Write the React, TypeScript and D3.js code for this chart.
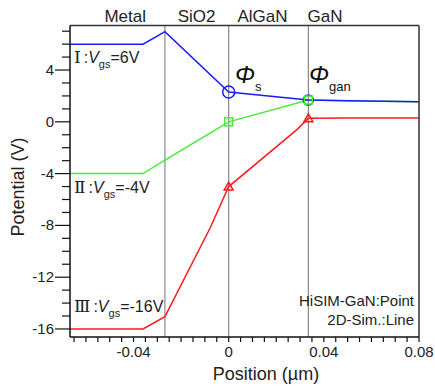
import React from 'react';
import * as d3 from 'd3';

// layer boundaries (µm) and labels
const boundaries = [-0.0268, 0, 0.0335];
const regionNames = ['Metal', 'SiO2', 'AlGaN', 'GaN'];
const regionLabelX = [-0.0435, -0.0135, 0.0142, 0.0405];

// 2D simulation lines
const lineX = [-0.0667, -0.036, -0.0268, 0, 0.0335, 0.05, 0.08];
const line6V = [6, 6, 6.96, 2.3, 1.68, 1.62, 1.55];
const lineM4V = [-4, -4, -2.95, 0, 1.68, 1.62, 1.55];
const redX = [-0.0667, -0.036, -0.0268, -0.0078, 0, 0.0287, 0.0335, 0.05, 0.08];
const lineM16V = [-16, -16, -15.05, -8.2, -5, -0.6, 0.27, 0.29, 0.3];

// HiSIM-GaN points
const pointX = [0, 0.0335];
const pts6V = [2.3, 1.68];
const ptsM4V = [0, 1.68];
const ptsM16V = [-5, 0.27];

const xTickLabels = [-0.04, 0, 0.04, 0.08];
const yTickLabels = [4, 0, -4, -8, -12, -16];

const BLUE = '#1a1aff';
const GREEN = '#44ee33';
const RED = '#ff1a1a';

export default function App() {
  const width = 435, height = 388;
  const left = 70, right = 419, top = 25.5, bottom = 337;

  const x = d3.scaleLinear().domain([-0.0667, 0.08]).range([left, right]);
  const y = d3.scaleLinear().domain([-16.62, 7.44]).range([bottom, top]);

  const mkLine = (xs: number[], ys: number[]) =>
    d3.line<number>().x((_, i) => x(xs[i])).y((d) => y(d))(ys) || '';

  const xMinor = d3.range(-0.065, 0.0801, 0.005);
  const yMinor = d3.range(-16, 8, 1);
  const font = 'Liberation Sans, Arial, sans-serif';
  const serif = 'Liberation Serif, DejaVu Serif, serif';
  const fmtX = (t: number) => (t === 0 ? '0' : d3.format('.2f')(t).replace('−', '-'));

  const vLabel = (roman: string, val: string, yy: number) => (
    <text x={74} y={yy} fontFamily={font} fontSize={16} fill="#222">
      <tspan fontFamily={serif} fontSize={17}>{roman}</tspan>
      <tspan dx={3}>:</tspan>
      <tspan fontStyle="italic">V</tspan>
      <tspan fontSize={11} dy={5}>gs</tspan>
      <tspan dy={-5}>{val}</tspan>
    </text>
  );

  return (
    <svg width={width} height={height} style={{ position: 'absolute', left: 0, top: 0 }}>
      <rect width={width} height={height} fill="#fff" />
      {/* layer boundaries */}
      {boundaries.map((b, i) => (
        <line key={i} x1={x(b)} x2={x(b)} y1={top} y2={bottom} stroke="#888" strokeWidth={1.2} />
      ))}
      {regionNames.map((n, i) => (
        <text key={n} x={x(regionLabelX[i])} y={21.5} textAnchor="middle" fontFamily={font} fontSize={17} fill="#222">{n}</text>
      ))}

      {/* lines */}
      <path d={mkLine(lineX, lineM4V)} fill="none" stroke={GREEN} strokeWidth={1.5} />
      <path d={mkLine(redX, lineM16V)} fill="none" stroke={RED} strokeWidth={1.5} />
      <path d={mkLine(lineX, line6V)} fill="none" stroke={BLUE} strokeWidth={1.5} />

      {/* points */}
      {pointX.map((px, i) => (
        <circle key={'c' + i} cx={x(px)} cy={y(pts6V[i])} r={i === 0 ? 6 : 5} fill="none" stroke={BLUE} strokeWidth={1.5} />
      ))}
      {pointX.map((px, i) => (
        <rect key={'s' + i} x={x(px) - 4} y={y(ptsM4V[i]) - 4} width={8} height={8} fill="none" stroke={GREEN} strokeWidth={1.5} />
      ))}
      {pointX.map((px, i) => {
        const cx = x(px), cy = y(ptsM16V[i]);
        return (
          <path key={'t' + i} d={`M${cx},${cy - 4.5}L${cx + 4.5},${cy + 3.5}L${cx - 4.5},${cy + 3.5}Z`} fill="none" stroke={RED} strokeWidth={1.5} />
        );
      })}

      {/* frame */}
      <line x1={left} x2={right} y1={top} y2={top} stroke="#333" strokeWidth={1.5} />
      <line x1={right} x2={right} y1={top} y2={bottom} stroke="#333" strokeWidth={1.5} />
      <line x1={left} x2={left} y1={top} y2={bottom} stroke="#111" strokeWidth={1.5} />
      <line x1={left} x2={right} y1={bottom} y2={bottom} stroke="#111" strokeWidth={1.5} />

      {/* x ticks */}
      {xMinor.map((t, i) => (
        <line key={i} x1={x(t)} x2={x(t)} y1={bottom} y2={bottom + 5} stroke="#111" strokeWidth={1.2} />
      ))}
      {xTickLabels.map((t) => (
        <text key={t} x={x(t)} y={357} textAnchor="middle" fontFamily={font} fontSize={15} fill="#222">{fmtX(t)}</text>
      ))}
      {/* y ticks */}
      {yMinor.map((t) => (
        <line key={t} x1={yTickLabels.includes(t) ? left - 15 : left - 8} x2={left} y1={y(t)} y2={y(t)} stroke="#111" strokeWidth={1.2} />
      ))}
      {yTickLabels.map((t) => (
        <text key={t} x={54} y={y(t) + 5} textAnchor="end" fontFamily={font} fontSize={15} fill="#222">{String(t)}</text>
      ))}

      {/* axis titles */}
      <text x={266} y={380} textAnchor="middle" fontFamily={font} fontSize={18} fill="#222">Position (µm)</text>
      <text transform={`translate(24,187) rotate(-90)`} textAnchor="middle" fontFamily={font} fontSize={18} fill="#222">Potential (V)</text>

      {/* annotations */}
      {vLabel('Ⅰ', '=6V', 63)}
      {vLabel('Ⅱ', '=-4V', 193)}
      {vLabel('Ⅲ', '=-16V', 312)}

      <text x={235} y={83} fontFamily={font} fontSize={24} fontStyle="italic" fill="#111">
        Φ<tspan fontSize={13} fontStyle="normal" dy={8}>s</tspan>
      </text>
      <text x={309} y={83} fontFamily={font} fontSize={24} fontStyle="italic" fill="#111">
        Φ<tspan fontSize={13} fontStyle="normal" dy={8}>gan</tspan>
      </text>

      <text x={414} y={306} textAnchor="end" fontFamily={font} fontSize={15} fill="#222">HiSIM-GaN:Point</text>
      <text x={414} y={325} textAnchor="end" fontFamily={font} fontSize={15} fill="#222">2D-Sim.:Line</text>
    </svg>
  );
}
